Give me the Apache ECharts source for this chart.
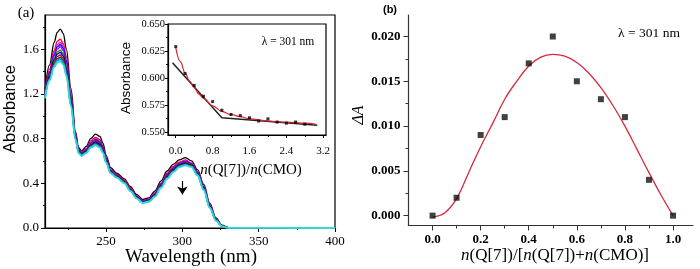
<!DOCTYPE html>
<html><head><meta charset="utf-8">
<script src="https://cdn.jsdelivr.net/npm/echarts@6/dist/echarts.min.js"></script>
<style>html,body{margin:0;padding:0;background:#fff}#c{width:700px;height:269px}</style>
</head><body><div id="c"></div>
<script>
// ---------- Panel (a): UV-vis spectra ----------
const wavelengths = [210,213,216,218,220,222,224,227,230,232,234,237,240,243,246,248,250,253,257,262,266,270,274,278,282,286,290,294,298,302,306,310,314,318,322,326,330,400];
const specBlack  = [1.24,1.46,1.66,1.75,1.78,1.74,1.60,1.25,0.86,0.72,0.69,0.73,0.80,0.84,0.82,0.76,0.65,0.54,0.49,0.44,0.37,0.30,0.255,0.27,0.33,0.42,0.51,0.57,0.61,0.63,0.60,0.52,0.39,0.22,0.09,0.025,0.004,0];
const specRed    = [1.22,1.42,1.59,1.67,1.69,1.65,1.53,1.20,0.84,0.70,0.68,0.71,0.78,0.81,0.79,0.73,0.63,0.52,0.48,0.43,0.36,0.29,0.246,0.259,0.314,0.40,0.49,0.55,0.59,0.61,0.58,0.50,0.37,0.21,0.08,0.022,0.004,0];
const specMagenta= [1.21,1.40,1.57,1.64,1.66,1.63,1.50,1.18,0.83,0.70,0.67,0.705,0.77,0.80,0.78,0.72,0.62,0.52,0.47,0.42,0.35,0.286,0.243,0.256,0.31,0.395,0.48,0.54,0.583,0.60,0.577,0.50,0.37,0.204,0.08,0.021,0.003,0];
const specBlue   = [1.20,1.39,1.55,1.62,1.64,1.61,1.49,1.17,0.83,0.70,0.67,0.70,0.76,0.79,0.77,0.72,0.62,0.516,0.47,0.42,0.35,0.283,0.241,0.253,0.306,0.39,0.476,0.536,0.579,0.596,0.574,0.496,0.366,0.20,0.078,0.02,0.003,0];
const specViolet = [1.196,1.38,1.54,1.60,1.62,1.59,1.47,1.16,0.82,0.69,0.665,0.70,0.756,0.785,0.765,0.71,0.614,0.512,0.468,0.418,0.348,0.281,0.238,0.251,0.302,0.387,0.471,0.531,0.574,0.591,0.57,0.492,0.362,0.198,0.076,0.019,0.003,0];
const specGreen  = [1.188,1.369,1.517,1.574,1.591,1.558,1.444,1.146,0.814,0.687,0.661,0.691,0.748,0.775,0.755,0.701,0.608,0.507,0.464,0.414,0.344,0.277,0.235,0.247,0.297,0.381,0.464,0.524,0.568,0.584,0.564,0.487,0.357,0.194,0.074,0.018,0.003,0];
const specNavy   = [1.182,1.359,1.502,1.556,1.571,1.538,1.427,1.135,0.81,0.684,0.658,0.687,0.742,0.768,0.748,0.695,0.603,0.504,0.461,0.411,0.341,0.275,0.233,0.245,0.294,0.377,0.46,0.52,0.563,0.58,0.56,0.484,0.354,0.191,0.072,0.018,0.003,0];
const specPurple = [1.176,1.348,1.484,1.534,1.548,1.516,1.408,1.122,0.804,0.68,0.654,0.682,0.736,0.76,0.74,0.688,0.598,0.50,0.458,0.408,0.338,0.272,0.231,0.242,0.29,0.372,0.454,0.514,0.558,0.574,0.556,0.48,0.35,0.188,0.07,0.017,0.002,0];
const specWine   = [1.17,1.338,1.469,1.515,1.528,1.496,1.391,1.111,0.799,0.676,0.651,0.678,0.73,0.753,0.733,0.682,0.593,0.496,0.455,0.405,0.335,0.27,0.229,0.24,0.286,0.368,0.449,0.509,0.553,0.569,0.552,0.476,0.346,0.185,0.068,0.016,0.002,0];
const specTeal   = [1.166,1.33,1.455,1.499,1.51,1.48,1.377,1.101,0.795,0.673,0.648,0.674,0.726,0.747,0.727,0.676,0.59,0.493,0.453,0.403,0.333,0.267,0.227,0.237,0.283,0.364,0.445,0.505,0.55,0.565,0.549,0.473,0.343,0.183,0.067,0.016,0.002,0];
const specCyan   = [1.16,1.32,1.44,1.48,1.49,1.46,1.36,1.09,0.79,0.67,0.645,0.67,0.72,0.74,0.72,0.67,0.585,0.49,0.45,0.40,0.33,0.265,0.225,0.235,0.28,0.36,0.44,0.50,0.545,0.56,0.545,0.47,0.34,0.18,0.065,0.015,0.002,0];
const spectra = [specBlack,specRed,specMagenta,specBlue,specViolet,specGreen,specNavy,specPurple,specWine,specTeal,specCyan];
const spectraColors = ['#000000','#ff0000','#ff00ff','#0000ff','#8a00e6','#008000','#000080','#800080','#800000','#00a8b0','#30dada'];

const aXMajor = [250,300,350,400];
const aXMinor = [225,275,325,375];
const aYMajor = [0,0.4,0.8,1.2,1.6];
const aYMinor = [0.2,0.6,1.0,1.4,1.8];
const arrowFrom = [300,0.42];
const arrowTo = [300,0.30];

// ---------- Inset ----------
const insetX = [0,0.2,0.4,0.6,0.8,1.0,1.2,1.4,1.6,1.8,2.0,2.2,2.4,2.6,2.8];
const insetY = [0.629,0.604,0.593,0.583,0.578,0.570,0.566,0.565,0.563,0.560,0.562,0.559,0.558,0.559,0.557];
const insetFitX = [0,0.1,0.2,0.3,0.4,0.5,0.6,0.8,1.0,1.2,1.4,1.6,2.0,2.4,2.8,3.05];
const insetFitY = [0.628,0.615,0.605,0.597,0.591,0.585,0.581,0.574,0.569,0.566,0.564,0.562,0.560,0.559,0.558,0.557];
const insetLineX = [-0.07,1.0,3.07];
const insetLineY = [0.614,0.563,0.556];
const inXMajor = [0,0.8,1.6,2.4,3.2];
const inXMinor = [0.4,1.2,2.0,2.8];
const inYMajor = [0.550,0.575,0.600,0.625,0.650];
const inYMinor = [0.5625,0.5875,0.6125,0.6375];

// ---------- Panel (b): Job plot ----------
const jobX = [0,0.1,0.2,0.3,0.4,0.5,0.6,0.7,0.8,0.9,1.0];
const jobY = [0,0.002,0.009,0.011,0.017,0.020,0.015,0.013,0.011,0.004,0];
const jobFitX = [0,0.05,0.1,0.15,0.2,0.25,0.3,0.35,0.4,0.45,0.5,0.55,0.6,0.65,0.7,0.75,0.8,0.85,0.9,0.95,1.0];
const jobFitY = [-0.00015,0.0003,0.0019,0.0048,0.0077,0.0103,0.0130,0.0150,0.0167,0.0177,0.0180,0.0178,0.0171,0.0159,0.0143,0.0123,0.0100,0.0074,0.0048,0.0023,0];
const bXMajor = [0,0.2,0.4,0.6,0.8,1.0];
const bXMinor = [0.1,0.3,0.5,0.7,0.9];
const bYMajor = [0,0.005,0.010,0.015,0.020];
const bYMinor = [0.0025,0.0075,0.0125,0.0175];

const SERIF = "'Liberation Serif','Times New Roman',serif";
const SANS = "'Liberation Sans',Arial,sans-serif";

function zip(xs, ys){ return xs.map((x,i)=>[x,ys[i]]); }

function majorAxis(kind, grid, min, max, ticks, fmt, o){
  return {
    type:'value', gridIndex:grid, min:min, max:max,
    position: kind==='x' ? 'bottom' : 'left',
    axisLine:{show:true,onZero:false,lineStyle:{color:o.lineColor||'#000',width:o.lineWidth||1.2}},
    axisTick:{show:true,inside:false,length:o.tickLen,customValues:ticks,lineStyle:{color:o.lineColor||'#000',width:1}},
    axisLabel:{show:true,customValues:ticks,formatter:fmt,margin:o.margin,color:'#000',
      fontFamily:o.font||SERIF,fontSize:o.fontSize,fontWeight:o.bold?'bold':'normal'},
    splitLine:{show:false}
  };
}
function minorAxis(kind, grid, min, max, ticks, o){
  return {
    type:'value', gridIndex:grid, min:min, max:max,
    position: kind==='x' ? 'bottom' : 'left',
    axisLine:{show:false,onZero:false},
    axisTick:{show:true,inside:false,length:o.tickLen,customValues:ticks,lineStyle:{color:o.lineColor||'#000',width:1}},
    axisLabel:{show:false},
    splitLine:{show:false}
  };
}

const xAxes = [
  majorAxis('x',0,210,400,aXMajor,v=>String(v),{tickLen:4,margin:7,fontSize:13}),
  minorAxis('x',0,210,400,aXMinor,{tickLen:2}),
  majorAxis('x',1,-0.168,3.26,inXMajor,v=>v.toFixed(1),{tickLen:3,margin:11,fontSize:11}),
  minorAxis('x',1,-0.168,3.26,inXMinor,{tickLen:2}),
  majorAxis('x',2,-0.1,1.083,bXMajor,v=>v.toFixed(1),{tickLen:5,margin:8,fontSize:13,bold:true,lineColor:'#333'}),
  minorAxis('x',2,-0.1,1.083,bXMinor,{tickLen:3,lineColor:'#333'})
];
const yAxes = [
  majorAxis('y',0,0,1.906,aYMajor,v=>v.toFixed(1),{tickLen:4,margin:6,fontSize:13}),
  minorAxis('y',0,0,1.906,aYMinor,{tickLen:2}),
  majorAxis('y',1,0.547,0.650,inYMajor,v=>v.toFixed(3),{tickLen:3,margin:3,fontSize:10.5}),
  minorAxis('y',1,0.547,0.650,inYMinor,{tickLen:2}),
  majorAxis('y',2,-0.0011,0.0224,bYMajor,v=>v.toFixed(3),{tickLen:5,margin:8,fontSize:13,bold:true,lineColor:'#333'}),
  minorAxis('y',2,-0.0011,0.0224,bYMinor,{tickLen:3,lineColor:'#333'})
];

const series = [];
spectra.forEach((s,i)=>{
  series.push({
    type:'line', xAxisIndex:0, yAxisIndex:0, data:zip(wavelengths,s),
    showSymbol:false, smooth:0.35, smoothMonotone:'x',
    lineStyle:{color:spectraColors[i], width: i>=9 ? 1.8 : 1.3},
    z: 2 + i, silent:true
  });
});
// arrow (annotation) drawn through the same axes
series.push({
  type:'line', xAxisIndex:0, yAxisIndex:0, data:[], silent:true, z:30,
  markLine:{
    silent:true, symbol:['none','arrow'], symbolSize:8, precision:3,
    lineStyle:{color:'#000',width:1.2,type:'solid'}, label:{show:false},
    emphasis:{disabled:true},
    data:[[{coord:arrowFrom, symbol:'none'},{coord:arrowTo, symbol:'arrow', symbolSize:8}]]
  }
});
series.push({type:'line', xAxisIndex:2, yAxisIndex:2, data:zip(insetLineX,insetLineY), showSymbol:false,
  lineStyle:{color:'#222',width:1.5}, z:20, silent:true});
series.push({type:'line', xAxisIndex:2, yAxisIndex:2, data:zip(insetFitX,insetFitY), showSymbol:false, smooth:0.4, smoothMonotone:'x',
  lineStyle:{color:'#e0202a',width:1.2}, z:21, silent:true});
series.push({type:'scatter', xAxisIndex:2, yAxisIndex:2, data:zip(insetX,insetY), symbol:'rect', symbolSize:3,
  itemStyle:{color:'#000'}, z:22, silent:true});
series.push({type:'line', xAxisIndex:4, yAxisIndex:4, data:zip(jobFitX,jobFitY), showSymbol:false, smooth:0.4,
  lineStyle:{color:'#d42a3a',width:1.3}, z:20, silent:true});
series.push({type:'scatter', xAxisIndex:4, yAxisIndex:4, data:zip(jobX,jobY), symbol:'rect', symbolSize:6,
  itemStyle:{color:'#111'}, z:22, silent:true});

function txt(text, x, y, font, opts){
  opts = opts || {};
  return {type:'text', x:x, y:y, rotation:opts.rot||0, z:100, silent:true,
    style:{text:text, font:font, fill:'#000', align:'center', verticalAlign:'middle',
      textAlign:'center', textVerticalAlign:'middle', rich:opts.rich}};
}
const richFrac = (size)=>({
  i:{fontFamily:SERIF,fontSize:size,fontStyle:'italic',fill:'#000'},
  r:{fontFamily:SERIF,fontSize:size,fill:'#000'}
});

const option = {
  animation:false,
  grid:[
    {left:45, top:15, width:290, height:213, show:true, borderColor:'#000', borderWidth:1.2, backgroundColor:'transparent'},
    {left:168, top:24, width:158, height:111, show:true, borderColor:'#000', borderWidth:1.2, backgroundColor:'transparent'},
    {left:408.5, top:15, width:284.5, height:210.5, show:false}
  ],
  xAxis:xAxes, yAxis:yAxes, series:series,
  graphic:[
    txt('(a)', 26, 13, '15px '+SERIF),
    txt('Absorbance', 10, 109, '16.5px '+SANS, {rot:Math.PI/2}),
    txt('Wavelength (nm)', 191, 257, '19px '+SERIF),
    txt('Absorbance', 126, 78, '13.5px '+SANS, {rot:Math.PI/2}),
    txt('{i|n}{r|(Q[7])/}{i|n}{r|(CMO)}', 251, 170, '15px '+SERIF, {rich:richFrac(15)}),
    txt('\u03bb = 301 nm', 288, 42, '11.5px '+SERIF),
    txt('(b)', 390, 10, 'bold 11px '+SANS),
    txt('{i|\u0394A}', 359, 115, 'italic 16px '+SERIF, {rot:Math.PI/2, rich:{i:{fontFamily:SERIF,fontSize:16,fontStyle:'italic',fill:'#000'}}}),
    txt('{i|n}{r|(Q[7])/[}{i|n}{r|(Q[7])+}{i|n}{r|(CMO)]}', 555, 256, '17px '+SERIF, {rich:richFrac(17)}),
    txt('\u03bb = 301 nm', 649, 33, '13.5px '+SERIF)
  ]
};
const chart = echarts.init(document.getElementById('c'), null, {renderer:'canvas'});
chart.setOption(option);
</script>
</body></html>
